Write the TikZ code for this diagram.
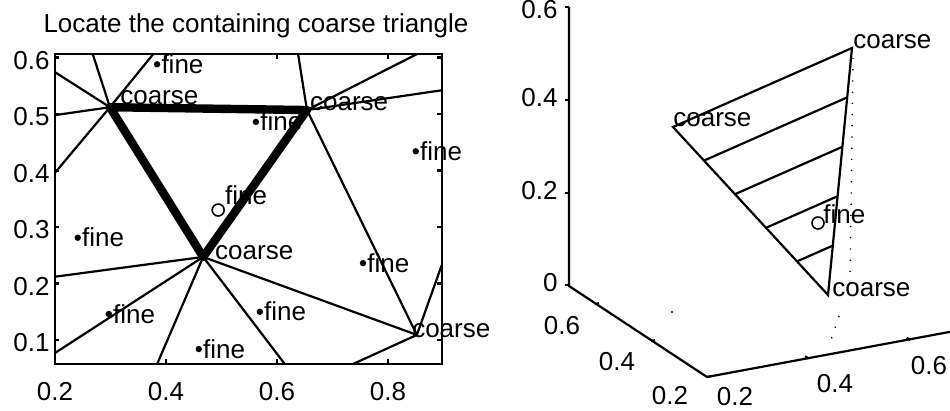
\documentclass[tikz,border=0pt]{standalone}
\usepackage{fontspec}
\setmainfont{Liberation Sans}
\usetikzlibrary{calc}

\tikzset{
  lbl/.style={font=\fontsize{13}{15}\selectfont, inner sep=0pt},
  coarselbl/.style={lbl, anchor=base west},
  finelbl/.style={lbl, anchor=base west, xshift=2pt, yshift=-4.5pt},
  ticklbl/.style={lbl},
  mesh/.style={line width=1.1pt},
  coarseedge/.style={line width=4.2pt, line join=round, line cap=round},
  finemark/.style={circle, fill, inner sep=0pt, minimum size=3.2pt},
  query/.style={circle, draw, line width=0.8pt, inner sep=0pt, minimum size=6pt},
  faint/.style={line width=0.7pt, dash pattern=on 0.6pt off 5pt}
}

\begin{document}
\begin{tikzpicture}[x=0.5pt, y=-0.5pt]
\useasboundingbox (0,0) rectangle (950,411);
\node[lbl, anchor=base] (title) at (256,33) {Locate the containing coarse triangle};

% left: the 2-D mesh in data units
\begin{scope}[shift={(-56,396.5)}, x=277.5pt, y=282.5pt]
\coordinate (A) at (0.299,0.512);
\coordinate (B) at (0.654,0.507);
\coordinate (C) at (0.467,0.247);
\coordinate (D) at (0.852,0.109);
\draw[mesh] (0.2,0.0575) rectangle (0.897,0.606);
\foreach \v [count=\i] in {0.1,0.2,0.3,0.4,0.5,0.6}{
  \draw[mesh] (0.2,\v) -- ++(0.008,0) (0.897,\v) -- ++(-0.008,0);
  \node[ticklbl, anchor=east, xshift=-2.5pt, yshift=-1.5pt] (yl\i) at (0.2,\v) {\v};
}
\foreach \u [count=\i] in {0.2,0.4,0.6,0.8}{
  \draw[mesh] (\u,0.0575) -- ++(0,0.008) (\u,0.606) -- ++(0,-0.008);
  \node[ticklbl, anchor=north, yshift=-9pt] (xl\i) at (\u,0.0575) {\u};
}
% fine edges out to the box
\foreach \p/\u/\v in {A/0.2/0.574, A/0.268/0.606, A/0.377/0.606, A/0.2/0.498,
    A/0.2/0.396, B/0.638/0.606, B/0.852/0.606, B/0.897/0.542, C/0.2/0.212,
    C/0.2/0.077, C/0.384/0.0575, C/0.614/0.0575, D/0.737/0.0575, D/0.897/0.233}
  \draw[mesh] (\p) -- (\u,\v);
\draw[mesh] (B) -- (D) -- (C);
\draw[coarseedge] (A) -- (B) -- (C) -- cycle;
\node[coarselbl] (cA) at (0.317,0.516) {coarse};
\node[coarselbl] (cB) at (0.659,0.507) {coarse};
\node[coarselbl] (cC) at (0.488,0.243) {coarse};
\node[coarselbl] (cD) at (0.843,0.105) {coarse};
\foreach \u/\v [count=\i] in {0.384/0.588, 0.562/0.486, 0.850/0.434, 0.241/0.281,
    0.297/0.146, 0.459/0.084, 0.569/0.150, 0.755/0.236}{
  \node[finemark] (m\i) at (\u,\v) {};
  \node[finelbl] (f\i) at (m\i.center) {fine};
}
\node[coarselbl] (f9) at (0.506,0.339) {fine};
\node[query] (q1) at (0.494,0.330) {};
\end{scope}

% right: 3-D view of the coarse triangle
\coordinate (P1) at (673,127);
\coordinate (P2) at (852,48);
\coordinate (P3) at (828,295);
\coordinate (O) at (707,377);
\draw[mesh] (569,7) -- (569,286) -- (O) -- (960,330);
\foreach \z/\t [count=\i] in {7/0.6, 100/0.4, 193/0.2, 285/0}
  \draw[mesh] (569,\z) -- ++(-4,0);
\foreach \z/\t [count=\i] in {10/0.6, 98/0.4, 191/0.2, 283/0}
  \node[ticklbl, anchor=east] (zl\i) at (558,\z) {\t};
\foreach \x/\y in {595/304, 651/341, 707/377}
  \draw[mesh] (\x,\y) -- ++(4,-0.8);
\foreach \x/\y/\t [count=\i] in {562/326/0.6, 617/362/0.4, 670/396/0.2}
  \node[ticklbl] (ul\i) at (\x,\y) {\t};
\foreach \x/\y in {808.5/358.5, 910/340}
  \draw[mesh] (\x,\y) -- ++(-3.3,-2.2);
\foreach \x/\y/\t [count=\i] in {735/397/0.2, 835/384/0.4, 929/366/0.6}
  \node[ticklbl] (vl\i) at (\x,\y) {\t};
\draw[faint] (853,58) -- (850,284);
\draw[faint] (839,316) -- (829,346);
\fill (672,312) circle (1.2);
\draw[mesh] (P1) -- (P2) -- (P3) -- cycle;
\foreach \k in {0.2,0.4,0.6,0.8}
  \draw[mesh] ($(P1)!\k!(P3)$) -- ($(P2)!\k!(P3)$);
\node[coarselbl] (c1) at (P1) {coarse};
\node[coarselbl] (c2) at (853,49) {coarse};
\node[coarselbl] (c3) at (832,297) {coarse};
\node[coarselbl] (f10) at (823,224) {fine};
\node[query] (q2) at (818,223) {};
\end{tikzpicture}
\end{document}
